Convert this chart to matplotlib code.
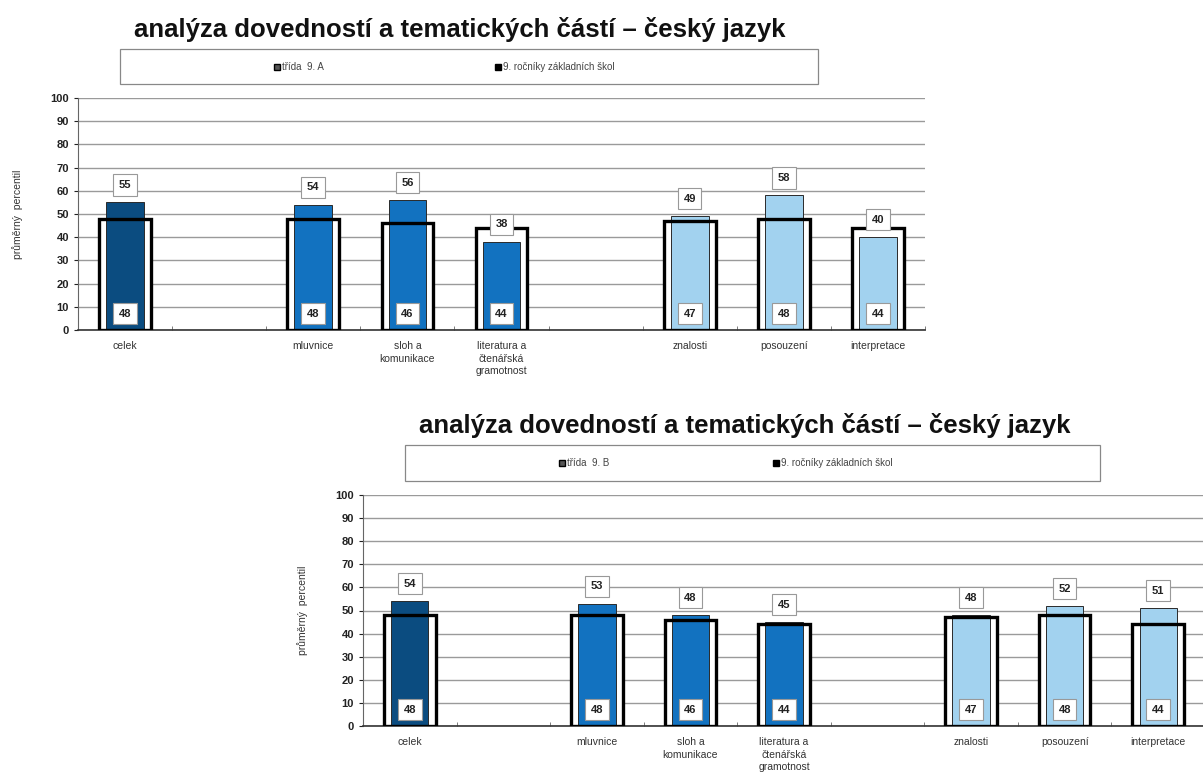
import numpy as np
import matplotlib
matplotlib.use("Agg")
import matplotlib.pyplot as plt
from matplotlib.patches import Rectangle
from matplotlib.lines import Line2D

plt.rcParams["font.family"] = ["Liberation Sans", "DejaVu Sans"]

# Data
categories = ["celek", "", "mluvnice", "sloh a\nkomunikace",
              "literatura a\nčtenářská\ngramotnost", "",
              "znalosti", "posouzení", "interpretace"]
class_a = [55, np.nan, 54, 56, 38, np.nan, 49, 58, 40]
class_b = [54, np.nan, 53, 48, 45, np.nan, 48, 52, 51]
national = [48, np.nan, 48, 46, 44, np.nan, 47, 48, 44]
group = [0, None, 1, 1, 1, None, 2, 2, 2]
colors = ["#0b4c80", "#1272c0", "#a2d2ef"]
title = "analýza dovedností a tematických částí – český jazyk"
legend_a = "třída  9. A"
legend_b = "třída  9. B"
legend_nat = "9. ročníky základních škol"
ylabel = "průměrný  percentil"

W, H = 1203, 784
fig = plt.figure(figsize=(W / 100, H / 100), dpi=100)


def px_axes(x0, y_top, x1, y_bot):
    return fig.add_axes([x0 / W, 1 - y_bot / H, (x1 - x0) / W, (y_bot - y_top) / H])


def draw_chart(ax, values, title_xy, legend_box, legend_items):
    x = np.arange(len(categories))
    box = dict(boxstyle="square,pad=0.5", fc="white", ec="#999999", lw=0.8)
    for i in x:
        if np.isnan(values[i]):
            continue
        ax.bar(i, national[i], width=0.55, color="white", zorder=2)
        ax.bar(i, values[i], width=0.40, color=colors[group[i]],
               edgecolor="#2a2a2a", linewidth=0.7, zorder=3)
        ax.bar(i, national[i], width=0.55, fill=False, edgecolor="black",
               linewidth=2.4, zorder=4)
        ax.text(i, values[i] + 7.5, f"{values[i]:.0f}", ha="center", va="center",
                fontsize=8, fontweight="bold", color="#222222", zorder=6, bbox=box)
        ax.text(i, 7, f"{national[i]:.0f}", ha="center", va="center",
                fontsize=8, fontweight="bold", color="#222222", zorder=6, bbox=box)
    ax.set_xlim(-0.5, len(categories) - 0.5)
    ax.set_ylim(0, 100)
    ax.set_yticks(range(0, 101, 10))
    ax.yaxis.grid(True, color="#9a9a9a", linewidth=1.0, zorder=0)
    ax.set_axisbelow(True)
    ax.set_xticks(x)
    ax.set_xticklabels(categories, fontsize=7.5, color="#333333", linespacing=1.3)
    ax.set_xticks(np.arange(-0.5, len(categories), 1), minor=True)
    ax.tick_params(axis="x", which="major", length=0, pad=8)
    ax.tick_params(axis="x", which="minor", length=3, color="#666666", direction="in")
    ax.tick_params(axis="y", length=3, labelsize=8, colors="#222222")
    for lab in ax.get_yticklabels():
        lab.set_fontweight("bold")
    for s in ["top", "right"]:
        ax.spines[s].set_visible(False)
    ax.spines["left"].set_color("#666666")
    ax.spines["bottom"].set_color("#333333")
    ax.spines["bottom"].set_linewidth(1.2)
    ax.set_ylabel(ylabel, fontsize=7.5, color="#333333", labelpad=20)

    fig.text(title_xy[0] / W, 1 - title_xy[1] / H, title, ha="center", va="center",
             fontsize=18.5, fontweight="bold", color="#111111")
    bx0, by0, bx1, by1 = legend_box
    fig.add_artist(Rectangle((bx0 / W, 1 - by1 / H), (bx1 - bx0) / W, (by1 - by0) / H,
                             transform=fig.transFigure, fc="white", ec="#888888", lw=0.9))
    ym = 1 - (by0 + by1) / 2 / H
    for (mx, txt), fcol in zip(legend_items, ["#555555", "black"]):
        fig.add_artist(Line2D([mx / W], [ym], marker="s", markersize=5,
                              markerfacecolor=fcol, markeredgecolor="black",
                              transform=fig.transFigure))
        fig.text((mx + 5) / W, ym, txt, ha="left", va="center", fontsize=7,
                 color="#444444")


ax1 = px_axes(78, 98, 925, 330)
draw_chart(ax1, class_a, (460, 29), (120, 49, 818, 84),
           [(277, legend_a), (498, legend_nat)])

ax2 = px_axes(363, 495, 1205, 726)
draw_chart(ax2, class_b, (745, 425), (405, 445, 1100, 481),
           [(562, legend_b), (776, legend_nat)])

fig.savefig("out.png", dpi=100)
